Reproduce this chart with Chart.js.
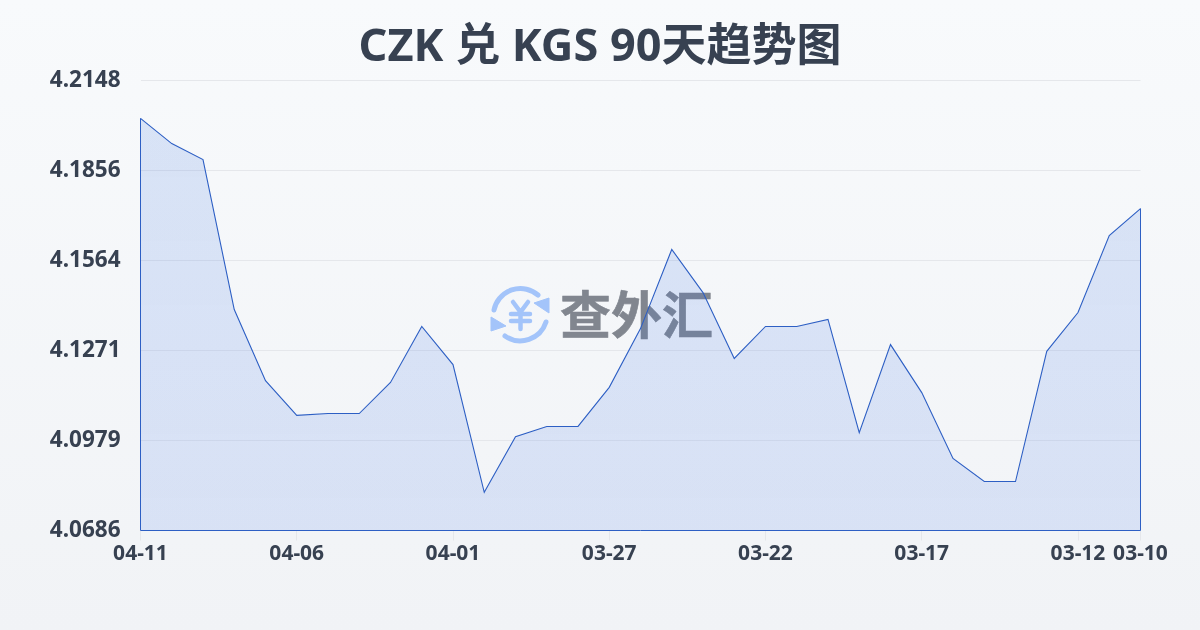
<!DOCTYPE html>
<html><head><meta charset="utf-8">
<script src="https://cdn.jsdelivr.net/npm/chart.js@4"></script>
<style>
html,body{margin:0;padding:0;width:1200px;height:630px;overflow:hidden;background:linear-gradient(180deg,#f8fafc 0%,#f1f3f6 100%);}
#wrap{position:relative;width:1200px;height:630px;}
#mark{position:absolute;left:0;top:0;}
canvas{position:absolute;left:0;top:0;}
</style></head><body>
<div id="wrap">
<svg id="mark" width="1200" height="630" viewBox="0 0 1200 630">
  <g fill="none" stroke="#a3c4fa" stroke-width="5" stroke-linecap="round">
    <path d="M494 310 A27 27 0 0 1 538 295"/>
    <path d="M546 322 A27 27 0 0 1 505 336"/>
    <path d="M513 302 L520.500 312 L528 302 M511 314 H530 M511 321 H530 M520.500 312 V329" stroke-width="4.500"/>
  </g>
  <path d="M549 298 L549 313 L534 303 Z" fill="#a3c4fa" stroke="#a3c4fa" stroke-width="1"/>
  <path d="M491 317 L491 331 L506 326 Z" fill="#a3c4fa" stroke="#a3c4fa" stroke-width="1"/>
  <text x="560" y="334" font-family="'Noto Sans CJK SC'" font-weight="700" font-size="51" fill="#81868f" stroke="#81868f" stroke-width="0.600">查外汇</text>
</svg>
<canvas id="c" width="1200" height="630"></canvas>
</div>
<script>
const categories=["04-11","04-10","04-09","04-08","04-07","04-06","04-05","04-04","04-03","04-02","04-01","03-31","03-30","03-29","03-28","03-27","03-26","03-25","03-24","03-23","03-22","03-21","03-20","03-19","03-18","03-17","03-16","03-15","03-14","03-13","03-12","03-11","03-10"];
const rates=[4.2025,4.1943,4.1891,4.1404,4.1173,4.1060,4.1066,4.1066,4.1167,4.1349,4.1225,4.0810,4.0991,4.1024,4.1024,4.1151,4.1342,4.1599,4.1459,4.1245,4.1349,4.1349,4.1372,4.1004,4.1290,4.1134,4.0920,4.0845,4.0845,4.1268,4.1394,4.1644,4.1732];
const yTicks=[4.0686,4.0979,4.1271,4.1564,4.1856,4.2148];
const xTicks=["04-11","04-06","04-01","03-27","03-22","03-17","03-12","03-10"];
const titleText="CZK 兑 KGS 90天趋势图";
const FONT="'Noto Sans','Noto Sans CJK SC',sans-serif";
const LINE='#2d5fc4';
const closeArea={id:'closeArea',afterDatasetsDraw(ch){
  const {ctx,scales:{x,y}}=ch;
  const xa=x.getPixelForValue(0),xb=x.getPixelForValue(categories.length-1),yb=y.getPixelForValue(yTicks[0]);
  ctx.save();ctx.strokeStyle=LINE;ctx.lineWidth=1;ctx.beginPath();
  ctx.moveTo(xa,y.getPixelForValue(rates[0]));ctx.lineTo(xa,yb);ctx.lineTo(xb,yb);ctx.lineTo(xb,y.getPixelForValue(rates[rates.length-1]));
  ctx.stroke();ctx.restore();
}};
const textCtx=document.getElementById('c').getContext('2d');
textCtx.fontKerning='normal';
textCtx.textRendering='geometricPrecision';
new Chart(document.getElementById('c'),{
  type:'line',
  data:{labels:categories,datasets:[{data:rates,borderColor:LINE,borderWidth:1.1,pointRadius:0,tension:0,yAxisID:'y',
    fill:'start',
    backgroundColor(ctx){
      const a=ctx.chart.chartArea; if(!a) return 'rgba(60,115,225,.16)';
      const g=ctx.chart.ctx.createLinearGradient(0,a.top,0,a.bottom);
      g.addColorStop(0,'rgba(60,115,225,.165)');g.addColorStop(1,'rgba(60,113,232,.137)');return g;
    }}]},
  options:{responsive:false,animation:false,
    layout:{padding:0},
    plugins:{legend:{display:false},tooltip:{enabled:false},
      title:{display:true,text:titleText,color:'#374151',font:{family:FONT,size:45,weight:'700',lineHeight:1},padding:{top:25.5,bottom:10}}},
    scales:{
      x:{offset:false,
        grid:{drawOnChartArea:false,drawTicks:true,tickLength:10,
          color(c){return xTicks.includes(categories[c.index])?'#e5e7eb':'rgba(0,0,0,0)';}},
        border:{display:false},
        afterFit(s){s.height=99.5;},
        ticks:{autoSkip:false,maxRotation:0,minRotation:0,padding:1,color:'#374151',font:{family:FONT,size:21,weight:'700'},
          callback(v){const l=categories[v];return xTicks.includes(l)?l:'';}}
      },
      y:{min:yTicks[0],max:yTicks[yTicks.length-1],
        afterBuildTicks(s){s.ticks=yTicks.map(v=>({value:v}));},
        afterFit(s){s.width=140.5;},
        grid:{color:'#e5e7eb',lineWidth:1,drawTicks:false},
        border:{display:false},
        ticks:{padding:20,color:'#374151',font:{family:FONT,size:22.5,weight:'700'},callback(v){return v.toFixed(4);}}
      },
      r:{position:'right',min:yTicks[0],max:yTicks[yTicks.length-1],
        afterFit(s){s.width=59.5;},
        grid:{display:false,drawOnChartArea:false,drawTicks:false},
        border:{display:false},
        ticks:{display:false}
      }
    }
  },
  plugins:[closeArea]
});
</script>
</body></html>
